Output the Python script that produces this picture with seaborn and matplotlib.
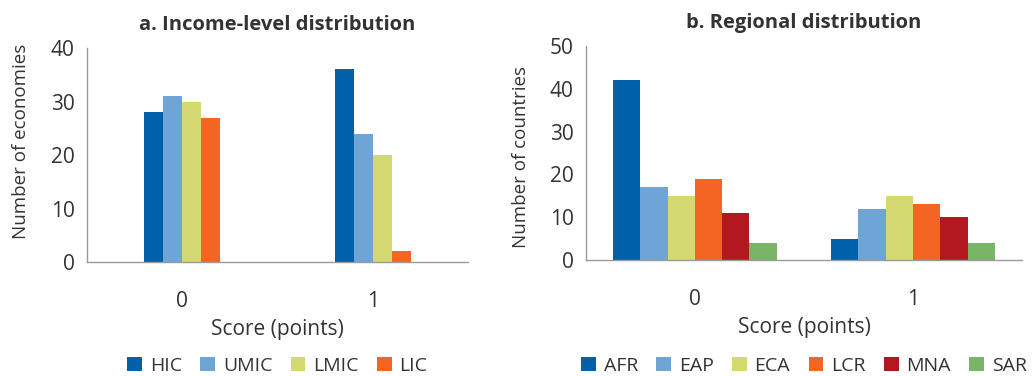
import numpy as np
import pandas as pd
import matplotlib.pyplot as plt
import seaborn as sns

# values
scores = ['0', '1']
income_groups = ['HIC', 'UMIC', 'LMIC', 'LIC']
income_score0 = [28, 31, 30, 27]
income_score1 = [36, 24, 20, 2]
income_colors = ['#0061AA', '#6FA5D6', '#D3D871', '#F26522']

regions = ['AFR', 'EAP', 'ECA', 'LCR', 'MNA', 'SAR']
region_score0 = [42, 17, 15, 19, 11, 4]
region_score1 = [5, 12, 15, 13, 10, 4]
region_colors = ['#0061AA', '#6FA5D6', '#D3D871', '#F26522', '#B2181F', '#79B566']

sns.set_style('white')
plt.rcParams['font.family'] = ['Open Sans', 'DejaVu Sans']
text_col = '#333333'
axis_col = '#9a9a9a'


def long_table(groups, s0, s1):
    return pd.DataFrame({
        'score': [scores[0]] * len(groups) + [scores[1]] * len(groups),
        'group': list(groups) * 2,
        'count': list(s0) + list(s1),
    })


def draw_panel(ax, df, groups, colors, width, ylim, yticks, title, ylabel,
               ylab_xy, leg_y):
    sns.barplot(data=df, x='score', y='count', hue='group', hue_order=groups,
                order=scores, palette=colors, width=width, saturation=1,
                linewidth=0, ax=ax)
    ax.set_xlim(-0.5, 1.5)
    ax.set_ylim(*ylim)
    ax.set_yticks(yticks)
    ax.set_title(title, fontsize=14.5, fontweight='bold', color=text_col, pad=13)
    ax.set_ylabel(ylabel, fontsize=13.5, color=text_col)
    ax.yaxis.set_label_coords(*ylab_xy)
    ax.set_xlabel('Score (points)', fontsize=15, color=text_col, labelpad=5)
    ax.tick_params(axis='both', labelsize=15, colors=text_col)
    ax.tick_params(axis='x', which='major', length=0, pad=21)
    ax.set_xticks([-0.5, 0.5, 1.5], minor=True)
    ax.tick_params(axis='x', which='minor', length=6, color=axis_col, width=1)
    ax.tick_params(axis='y', length=5, color=axis_col, width=1, pad=4)
    sns.despine(ax=ax)
    for side in ['left', 'bottom']:
        ax.spines[side].set_color(axis_col)
        ax.spines[side].set_linewidth(1)
    sns.move_legend(ax, 'center', bbox_to_anchor=(0.5, leg_y), ncol=len(groups),
                    frameon=False, title=None, fontsize=14, handlelength=0.75,
                    handleheight=0.75, handletextpad=0.4, columnspacing=0.95,
                    labelcolor=text_col)


fig = plt.figure(figsize=(10.34, 3.76), dpi=100)
ax1 = fig.add_axes([0.0841, 0.3032, 0.3685, 0.569])
ax2 = fig.add_axes([0.5667, 0.3085, 0.4217, 0.569])

draw_panel(ax1, long_table(income_groups, income_score0, income_score1),
           income_groups, income_colors, 0.4, (0, 40), [0, 10, 20, 30, 40],
           'a. Income-level distribution', 'Number of economies',
           (-0.15, 0.565), -0.485)
draw_panel(ax2, long_table(regions, region_score0, region_score1),
           regions, region_colors, 0.75, (0, 50), [0, 10, 20, 30, 40, 50],
           'b. Regional distribution', 'Number of countries',
           (-0.128, 0.48), -0.495)

fig.savefig('out.png', dpi=100)
